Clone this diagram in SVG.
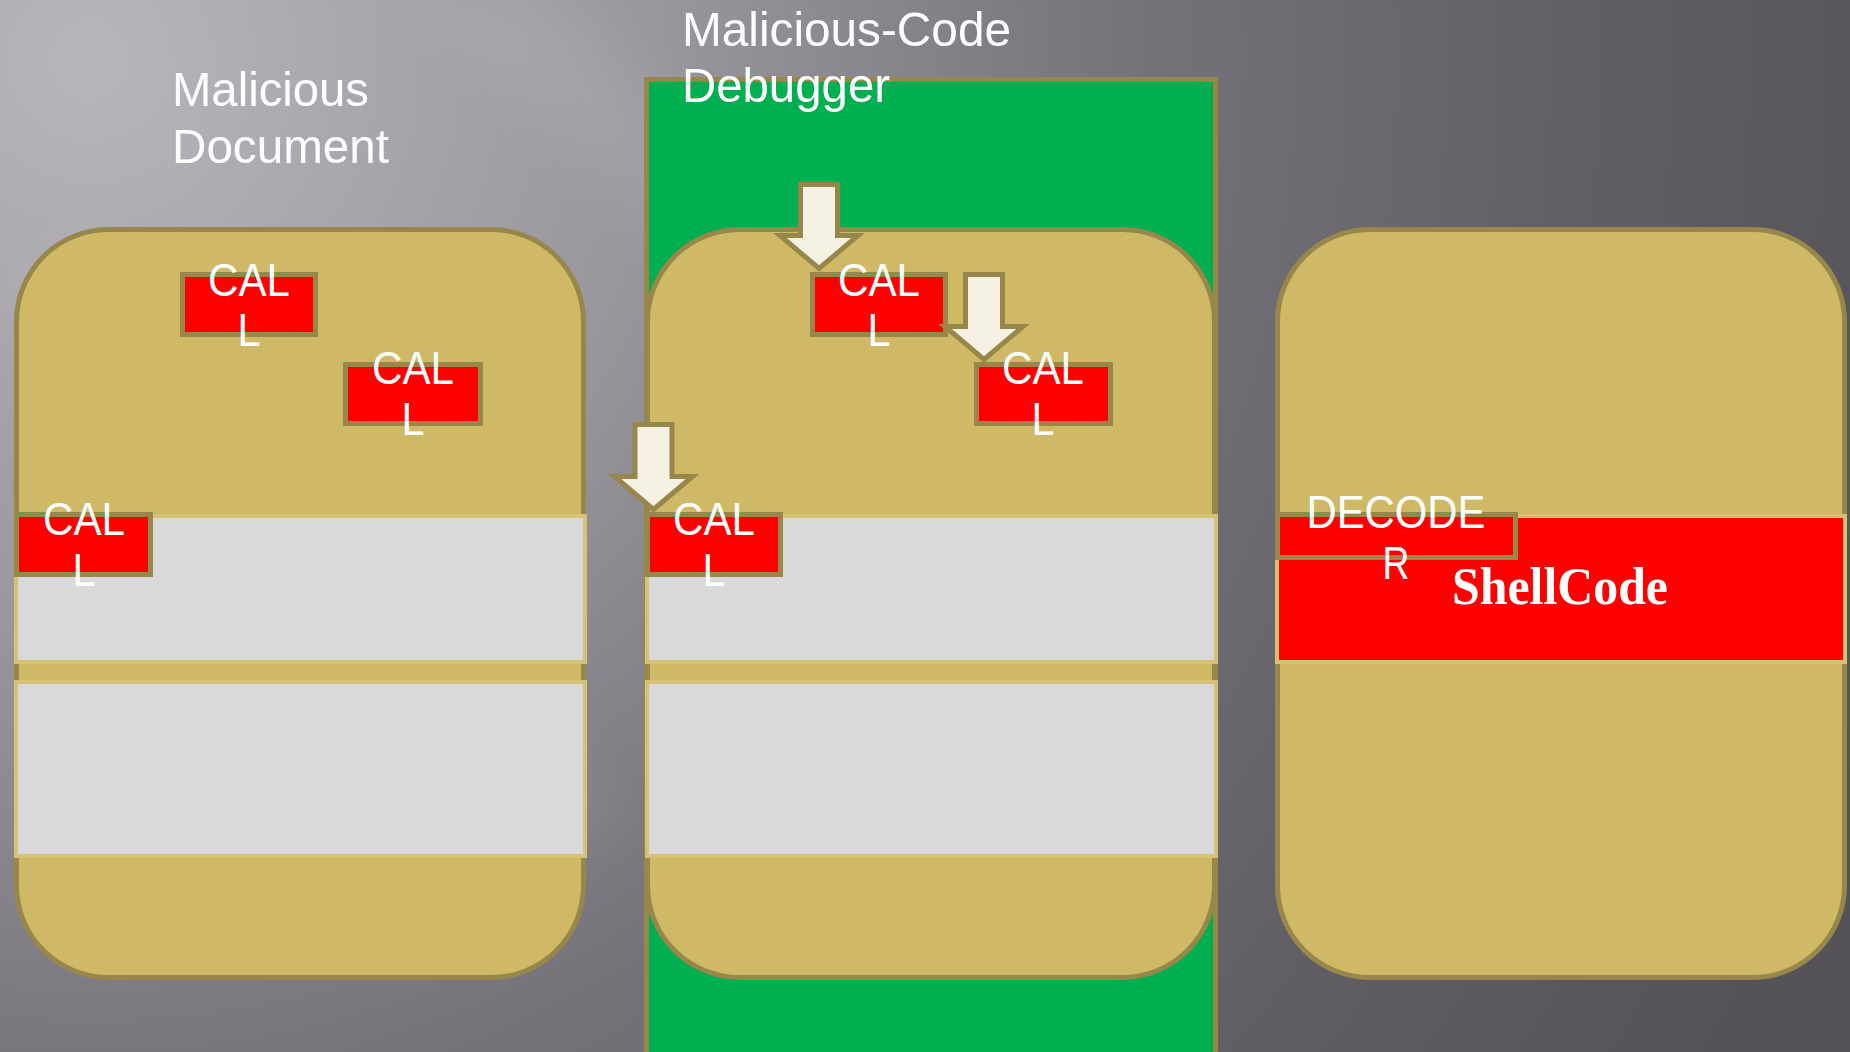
<svg xmlns="http://www.w3.org/2000/svg" width="1850" height="1052" viewBox="0 0 1850 1052">
  <defs>
    <radialGradient id="bgGrad" gradientUnits="userSpaceOnUse" cx="90" cy="60" r="1900">
      <stop offset="0" stop-color="#b8b5bd"/>
      <stop offset="0.3" stop-color="#99969e"/>
      <stop offset="0.55" stop-color="#75727a"/>
      <stop offset="0.8" stop-color="#605d64"/>
      <stop offset="1" stop-color="#555358"/>
    </radialGradient>
    <filter id="soft" x="-20%" y="-20%" width="140%" height="140%">
      <feGaussianBlur stdDeviation="28"/>
    </filter>
    <style>
      .doc { fill: #cfb967; stroke: #98874a; stroke-width: 5; }
      .band { fill: #d9d9db; stroke: #d6c275; stroke-width: 4; }
      .hot { fill: #ff0000; stroke: #d6c275; stroke-width: 4; }
      .call { fill: #ff0000; stroke: #98874a; stroke-width: 5; }
      .lbl { font-family: "Liberation Sans", Arial, sans-serif; font-size: 46px; fill: #ffffff; text-anchor: middle; }
      .title { font-family: "Liberation Sans", Arial, sans-serif; font-size: 49px; fill: #ffffff; }
      .shell { font-family: "Liberation Serif", "Times New Roman", serif; font-size: 52px; font-weight: bold; fill: #ffffff; text-anchor: middle; }
      .arrow { fill: #f5f2e3; stroke: #98874a; stroke-width: 5; stroke-linejoin: miter; }
      .stage { fill: #00af50; stroke: #98874a; stroke-width: 5; }
    </style>
  </defs>

  <!-- backdrop -->
  <rect x="0" y="0" width="1850" height="1052" fill="url(#bgGrad)"/>
  <g filter="url(#soft)" fill="#ffffff" opacity="0.07">
    <polygon points="420,0 560,0 900,330 760,330"/>
    <polygon points="0,280 80,250 620,820 520,860"/>
  </g>

  <!-- debugger stage behind the middle document -->
  <g id="debugger">
    <rect class="stage" x="646.5" y="79.5" width="569" height="1000"/>
    <text class="title" x="682" y="46" textLength="329" lengthAdjust="spacingAndGlyphs">Malicious-Code</text>
    <text class="title" x="682" y="102" textLength="208" lengthAdjust="spacingAndGlyphs">Debugger</text>
  </g>

  <!-- title of the left document -->
  <g id="doc-title">
    <text class="title" x="172" y="106" textLength="197" lengthAdjust="spacingAndGlyphs">Malicious</text>
    <text class="title" x="172" y="163" textLength="217" lengthAdjust="spacingAndGlyphs">Document</text>
  </g>

  <!-- left document -->
  <g id="doc-left">
    <rect class="doc" x="16.5" y="229.5" width="567" height="748" rx="92" ry="92"/>
    <rect class="band" x="16" y="516" width="569" height="146"/>
    <rect class="band" x="16" y="682" width="569" height="174"/>
  </g>
  <g id="call-left-1">
    <rect class="call" x="182.5" y="274.5" width="133" height="60"/>
    <text class="lbl" x="249" y="296" textLength="82" lengthAdjust="spacingAndGlyphs">CAL</text>
    <text class="lbl" x="249" y="346" textLength="23" lengthAdjust="spacingAndGlyphs">L</text>
  </g>
  <g id="call-left-2">
    <rect class="call" x="345.5" y="364.5" width="135" height="59"/>
    <text class="lbl" x="413" y="384" textLength="82" lengthAdjust="spacingAndGlyphs">CAL</text>
    <text class="lbl" x="413" y="435" textLength="23" lengthAdjust="spacingAndGlyphs">L</text>
  </g>
  <g id="call-left-3">
    <rect class="call" x="16.5" y="514.5" width="134" height="60"/>
    <text class="lbl" x="84" y="535" textLength="82" lengthAdjust="spacingAndGlyphs">CAL</text>
    <text class="lbl" x="84" y="586" textLength="23" lengthAdjust="spacingAndGlyphs">L</text>
  </g>

  <!-- middle document (under the debugger) -->
  <g id="doc-middle">
    <rect class="doc" x="647.5" y="229.5" width="567" height="748" rx="92" ry="92"/>
    <rect class="band" x="647" y="516" width="569" height="146"/>
    <rect class="band" x="647" y="682" width="569" height="174"/>
  </g>
  <g id="call-middle-1">
    <rect class="call" x="812.5" y="274.5" width="133" height="60"/>
    <text class="lbl" x="879" y="296" textLength="82" lengthAdjust="spacingAndGlyphs">CAL</text>
    <text class="lbl" x="879" y="346" textLength="23" lengthAdjust="spacingAndGlyphs">L</text>
  </g>
  <g id="call-middle-2">
    <rect class="call" x="976.5" y="364.5" width="134" height="59"/>
    <text class="lbl" x="1043" y="384" textLength="82" lengthAdjust="spacingAndGlyphs">CAL</text>
    <text class="lbl" x="1043" y="435" textLength="23" lengthAdjust="spacingAndGlyphs">L</text>
  </g>
  <g id="call-middle-3">
    <rect class="call" x="647.5" y="514.5" width="133" height="60"/>
    <text class="lbl" x="714" y="535" textLength="82" lengthAdjust="spacingAndGlyphs">CAL</text>
    <text class="lbl" x="714" y="586" textLength="23" lengthAdjust="spacingAndGlyphs">L</text>
  </g>

  <!-- right document with decoded shellcode -->
  <g id="doc-right">
    <rect class="doc" x="1277.5" y="229.5" width="567" height="748" rx="92" ry="92"/>
    <rect class="hot" x="1277" y="516" width="568" height="146"/>
    <text class="shell" x="1560" y="604" textLength="216" lengthAdjust="spacingAndGlyphs">ShellCode</text>
  </g>
  <g id="decoder">
    <rect class="call" x="1277.5" y="514.5" width="238" height="43"/>
    <text class="lbl" x="1396" y="528" textLength="179" lengthAdjust="spacingAndGlyphs">DECODE</text>
    <text class="lbl" x="1396" y="579" textLength="27" lengthAdjust="spacingAndGlyphs">R</text>
  </g>

  <!-- breakpoint arrows -->
  <g id="connectors">
    <polygon class="arrow" points="800.5,184.5 837.5,184.5 837.5,235.5 858,235.5 819,268.5 780,235.5 800.5,235.5"/>
    <polygon class="arrow" points="965.5,274.5 1002.5,274.5 1002.5,326.5 1023,326.5 984,359.5 945,326.5 965.5,326.5"/>
    <polygon class="arrow" points="635,424.5 672,424.5 672,476.5 692.5,476.5 653.5,509.5 614.5,476.5 635,476.5"/>
  </g>
</svg>
